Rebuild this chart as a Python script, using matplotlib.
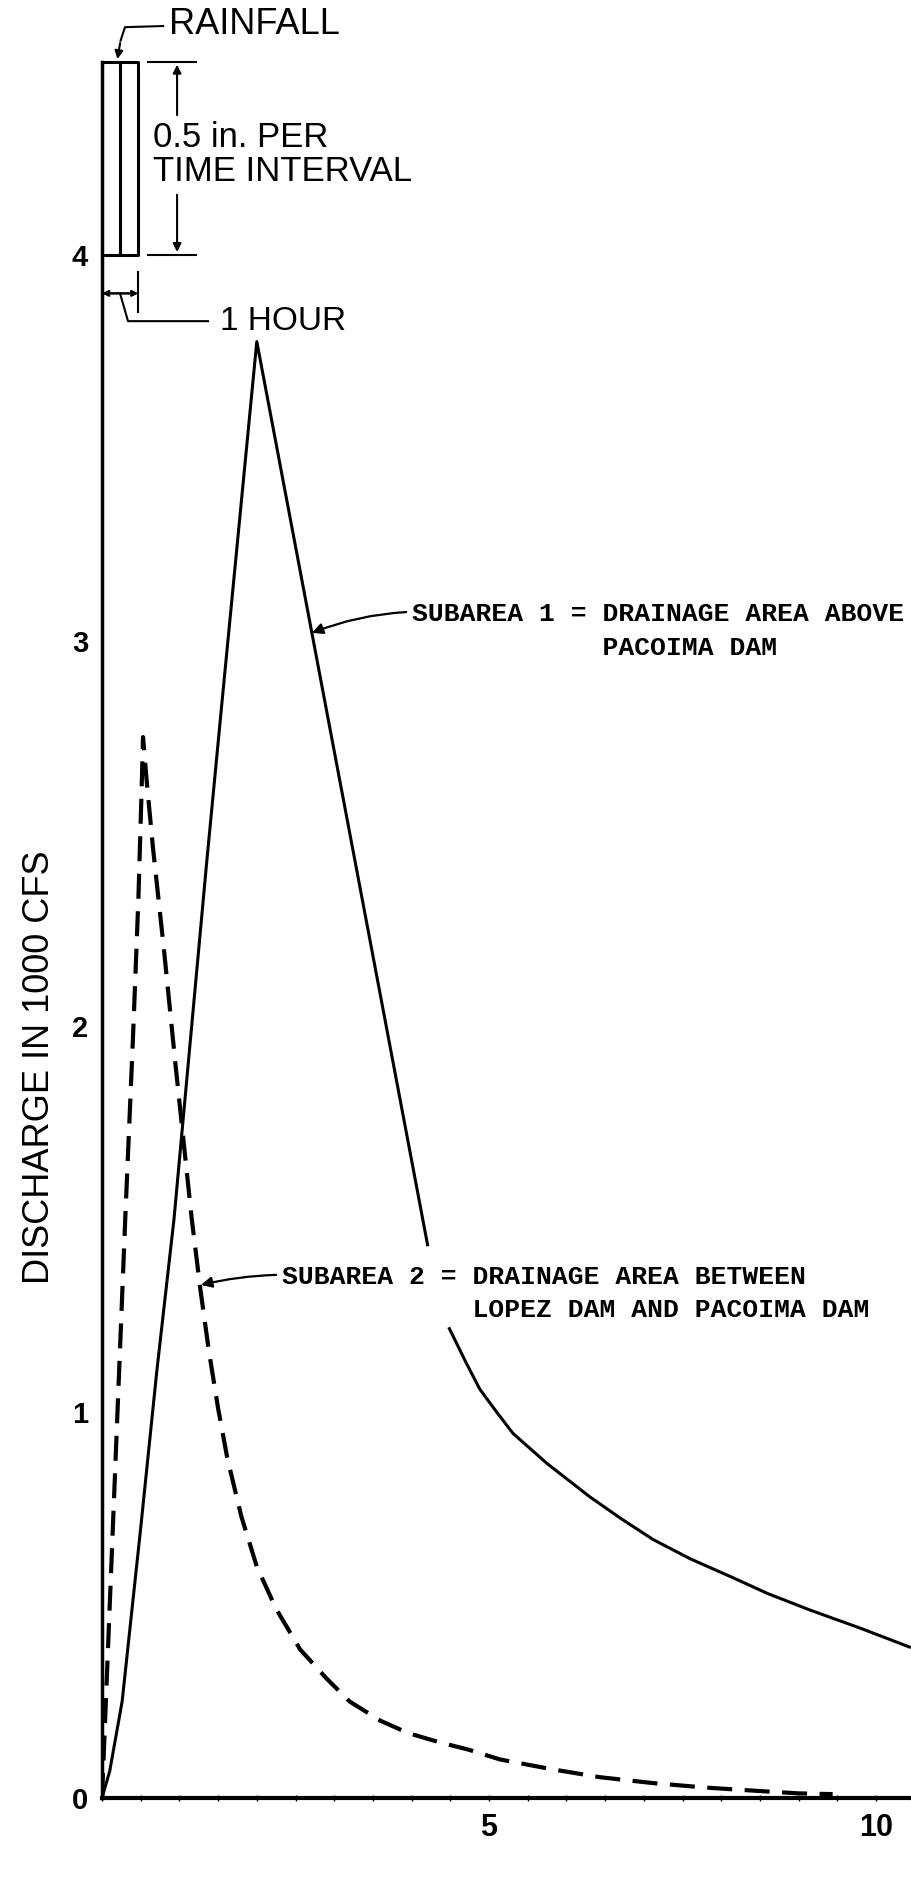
import matplotlib.pyplot as plt
import numpy as np

# Hydrographs, time in hours vs discharge in 1000 cfs
# Subarea 1: solid line, broken where it passes the subarea 2 note
sub1_t = [0, 0.1, 0.26, 0.5, 0.71, 0.93, 1.35, 1.55, 2.0, 4.21, np.nan,
          4.48, 4.7, 4.88, 5.1, 5.31, 5.75, 6.3, 6.7, 7.12, 7.6, 8.13, 8.6,
          9.15, 9.8, 10.45]
sub1_q = [0, 0.07, 0.25, 0.7, 1.11, 1.5, 2.42, 2.84, 3.775, 1.43, np.nan,
          1.22, 1.13, 1.06, 1.0, 0.945, 0.867, 0.781, 0.725, 0.67, 0.62,
          0.573, 0.53, 0.487, 0.44, 0.39]

# Subarea 2: dashed line
sub2_t = [0, 0.05, 0.1, 0.2, 0.3, 0.4, 0.47, 0.51, 0.53, 0.58, 0.66, 0.8,
          0.95, 1.16, 1.27, 1.38, 1.5, 1.62, 1.8, 2.0, 2.25, 2.56, 2.9, 3.2,
          3.6, 3.96, 4.35, 4.74, 5.14, 5.8, 6.43, 7.1, 7.8, 8.5, 9.0, 9.44]
sub2_q = [0, 0.25, 0.5, 1.0, 1.5, 1.97, 2.33, 2.6, 2.75, 2.63, 2.46, 2.2,
          1.9, 1.5, 1.32, 1.16, 1.01, 0.88, 0.73, 0.6, 0.49, 0.385, 0.31,
          0.25, 0.2, 0.168, 0.145, 0.125, 0.1, 0.075, 0.054, 0.039, 0.027,
          0.018, 0.012, 0.01]

# Rainfall block: 0.5 in. per interval, drawn on top of the axis at 4
rain_base = 4.0
rain_depth = 0.5
rain_edges = [0, 0.233, 0.47]

yticks = [0, 1, 2, 3, 4]
xticks = [0, 5, 10]
xticklabels = ['', '5', '10']

sans = 'Liberation Sans'
mono = 'Liberation Mono'

fig = plt.figure(figsize=(9.11, 19.01), dpi=100)
ax = fig.add_axes([102 / 911, 103 / 1901, 809 / 911, 1798 / 1901])
ax.set_xlim(0, 809 / 77.4)
ax.set_ylim(0, 1798 / 385.8)

ax.plot(sub1_t, sub1_q, color='black', lw=2.2, solid_capstyle='butt')
ax.plot(sub2_t, sub2_q, color='black', lw=3, dashes=(6, 3))

# axes
for s in ['top', 'right']:
    ax.spines[s].set_visible(False)
ax.spines['left'].set_linewidth(2.5)
ax.spines['left'].set_bounds(0, rain_base + rain_depth)
ax.spines['bottom'].set_linewidth(3)

ax.set_yticks(yticks)
ax.set_yticklabels([str(v) for v in yticks], fontfamily=sans,
                   fontweight='bold', fontsize=21)
ax.set_xticks(xticks)
ax.set_xticklabels(xticklabels, fontfamily=sans, fontweight='bold', fontsize=22)
ax.set_xticks(np.arange(0, 10.5, 0.5), minor=True)
ax.tick_params(axis='y', length=0, pad=10)
ax.tick_params(axis='x', which='both', length=4, width=1, direction='inout', pad=9)

fig.text(40 / 911, 1 - 1067 / 1901, 'DISCHARGE IN 1000 CFS', rotation=90,
         ha='center', va='center', fontsize=26, fontfamily=sans)

# rainfall bar
top = rain_base + rain_depth
ax.plot([rain_edges[0], rain_edges[2], rain_edges[2], rain_edges[0]],
        [top, top, rain_base, rain_base], color='black', lw=2.2, clip_on=False)
ax.plot([rain_edges[1], rain_edges[1]], [rain_base, top], color='black', lw=2.2)

# rainfall leader
ax.plot([0.79, 0.297, 0.24], [4.593, 4.59, 4.555], color='black', lw=1.5)
ax.annotate('', xy=(0.194, top), xytext=(0.24, 4.556),
            arrowprops=dict(arrowstyle='-|>', color='black', lw=1.5,
                            mutation_scale=12))
ax.text(0.866, 4.596, 'RAINFALL', fontsize=26, fontfamily=sans, va='center')

# 0.5 in dimension
for yy in [top, rain_base]:
    ax.plot([0.59, 1.22], [yy, yy], color='black', lw=1.5)
ax.annotate('', xy=(0.97, top), xytext=(0.97, 4.355),
            arrowprops=dict(arrowstyle='-|>', color='black', lw=1.5,
                            mutation_scale=12))
ax.annotate('', xy=(0.97, rain_base), xytext=(0.97, 4.163),
            arrowprops=dict(arrowstyle='-|>', color='black', lw=1.5,
                            mutation_scale=12))
ax.text(0.66, 4.303, '0.5 in. PER', fontsize=25, fontfamily=sans, va='center')
ax.text(0.66, 4.217, 'TIME INTERVAL', fontsize=25, fontfamily=sans, va='center')

# 1 hour dimension
ax.annotate('', xy=(0, 3.90), xytext=(rain_edges[2], 3.90),
            arrowprops=dict(arrowstyle='<->', color='black', lw=1.8,
                            mutation_scale=8, shrinkA=0, shrinkB=0))
ax.plot([rain_edges[2], rain_edges[2]], [3.852, 3.955], color='black', lw=1.5)
ax.plot([0.233, 0.336, 1.37], [3.90, 3.828, 3.828], color='black', lw=1.5)
ax.text(1.525, 3.828, '1 HOUR', fontsize=24, fontfamily=sans, va='center')

# notes
ax.annotate('', xy=(2.713, 3.02), xytext=(3.93, 3.074),
            arrowprops=dict(arrowstyle='-|>', color='black', lw=1.6,
                            mutation_scale=16,
                            connectionstyle='arc3,rad=0.08', shrinkA=0, shrinkB=0))
ax.text(4.0, 3.069, 'SUBAREA 1 = DRAINAGE AREA ABOVE', fontsize=19,
        fontfamily=mono, fontweight='bold', va='center')
ax.text(4.0, 2.982, '            PACOIMA DAM', fontsize=19,
        fontfamily=mono, fontweight='bold', va='center')

ax.annotate('', xy=(1.28, 1.33), xytext=(2.25, 1.356),
            arrowprops=dict(arrowstyle='-|>', color='black', lw=1.6,
                            mutation_scale=16,
                            connectionstyle='arc3,rad=0.05', shrinkA=0, shrinkB=0))
ax.text(2.326, 1.350, 'SUBAREA 2 = DRAINAGE AREA BETWEEN', fontsize=19,
        fontfamily=mono, fontweight='bold', va='center')
ax.text(2.326, 1.265, '            LOPEZ DAM AND PACOIMA DAM', fontsize=19,
        fontfamily=mono, fontweight='bold', va='center')

fig.savefig('out.png', dpi=100)
